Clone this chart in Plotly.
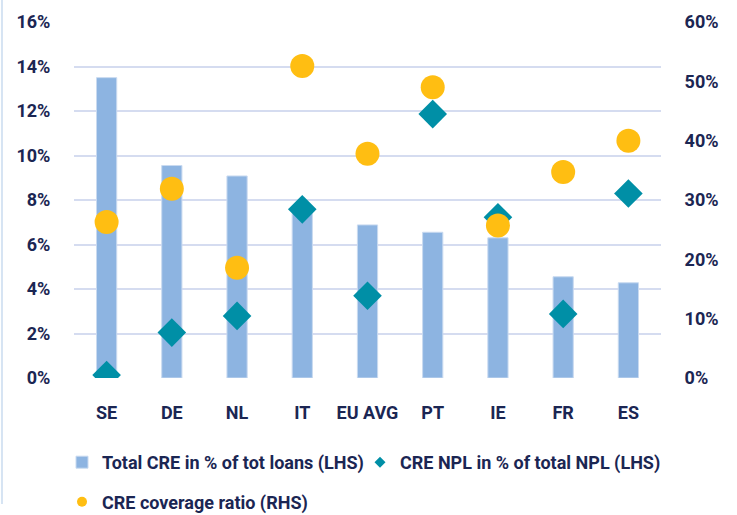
import plotly.graph_objects as go

categories = ["SE", "DE", "NL", "IT", "EU AVG", "PT", "IE", "FR", "ES"]
cre_share = [13.5, 9.55, 9.08, 7.4, 6.88, 6.55, 6.3, 4.55, 4.28]
cre_npl = [0.13, 2.04, 2.79, 7.58, 3.70, 11.86, 7.22, 2.88, 8.29]
coverage = [26.3, 31.9, 18.6, 52.6, 37.8, 49.0, 25.7, 34.7, 40.0]

left_ticks = [0, 2, 4, 6, 8, 10, 12, 14, 16]
left_labels = ["0%", "2%", "4%", "6%", "8%", "10%", "12%", "14%", "16%"]
right_ticks = [0, 10, 20, 30, 40, 50, 60]
right_labels = ["0%", "10%", "20%", "30%", "40%", "50%", "60%"]

TEXT = "#1B2653"
FONT = "Roboto"
GRID = "#D5DCF0"
BAR_C = "#8DB4E1"
DIA_C = "#008FA6"
CIR_C = "#FFBE12"
tf = dict(family=FONT, size=18, color=TEXT, weight="bold")

fig = go.Figure()
fig.add_trace(go.Bar(
    x=categories, y=cre_share, name="Total CRE in % of tot loans (LHS)",
    marker=dict(color=BAR_C, line=dict(color="#C9DAF0", width=1)),
    width=0.31, yaxis="y", legend="legend",
))
fig.add_trace(go.Scatter(
    x=categories, y=cre_npl, name="CRE NPL in % of total NPL (LHS)",
    mode="markers", marker=dict(symbol="diamond", size=22, color=DIA_C),
    yaxis="y", showlegend=False,
))
fig.add_trace(go.Scatter(
    x=categories, y=coverage, name="CRE coverage ratio (RHS)",
    mode="markers", marker=dict(symbol="circle", size=24, color=CIR_C),
    yaxis="y2", showlegend=False,
))
# legend entries with smaller symbols
fig.add_trace(go.Scatter(
    x=[None], y=[None], name="CRE NPL in % of total NPL (LHS)",
    mode="markers", marker=dict(symbol="diamond", size=8.5, color=DIA_C),
    yaxis="y", legend="legend3",
))
fig.add_trace(go.Scatter(
    x=[None], y=[None], name="CRE coverage ratio (RHS)",
    mode="markers", marker=dict(symbol="circle", size=10, color=CIR_C),
    yaxis="y2", legend="legend2",
))

leg = dict(orientation="h", xref="container", yref="container",
           xanchor="left", yanchor="middle", font=tf,
           bgcolor="rgba(0,0,0,0)", itemclick=False)

fig.update_layout(
    width=737, height=515,
    margin=dict(l=74, r=76, t=22, b=137, autoexpand=False),
    paper_bgcolor="white", plot_bgcolor="white",
    font=tf,
    xaxis=dict(
        type="category", range=[-0.5, 8.5], showgrid=False, zeroline=False,
        ticks="outside", ticklen=18, tickcolor="rgba(0,0,0,0)", tickfont=tf,
    ),
    yaxis=dict(
        range=[0, 16], tickmode="array", tickvals=left_ticks, ticktext=left_labels,
        showgrid=True, gridcolor=GRID, gridwidth=2, zeroline=False,
        ticks="outside", ticklen=19, tickcolor="rgba(0,0,0,0)", tickfont=tf,
    ),
    yaxis2=dict(
        range=[0, 60], tickmode="array", tickvals=right_ticks, ticktext=right_labels,
        overlaying="y", side="right", showgrid=False, zeroline=False,
        ticks="outside", ticklen=19, tickcolor="rgba(0,0,0,0)", tickfont=tf,
    ),
    legend=dict(leg, x=62 / 737, y=1 - 462.5 / 515),
    legend3=dict(leg, x=360 / 737, y=1 - 462.5 / 515),
    legend2=dict(leg, x=62 / 737, y=1 - 502 / 515),
    bargap=0.69,
    shapes=[dict(type="line", xref="paper", yref="paper",
                 x0=-0.1227, x1=-0.1227, y0=1.062, y1=-0.354,
                 line=dict(color="#D6E4F3", width=2))],
)

fig.write_html("out.html", config={"displayModeBar": False},
               post_script="document.body.style.margin='0px';")
